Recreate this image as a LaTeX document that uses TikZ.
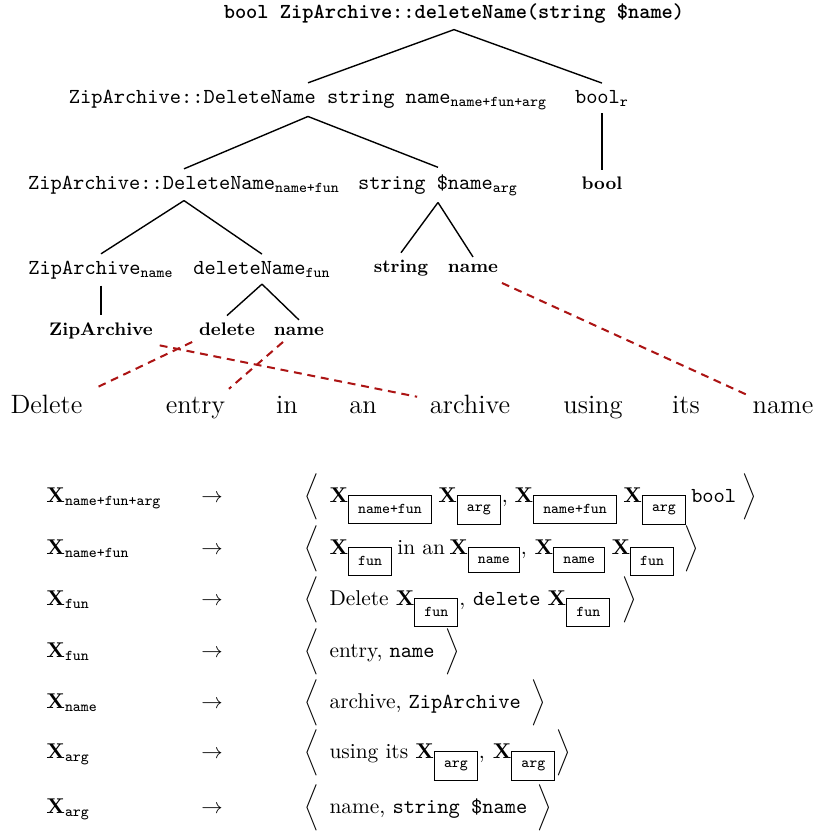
\documentclass[tikz,border=0pt]{standalone}
\usepackage{amsmath}
\usepackage{graphicx}
\usetikzlibrary{calc}
\definecolor{linkred}{RGB}{172,20,20}
\newcommand{\tsub}[1]{\text{\ttfamily #1}}
\newcommand{\bxs}[1]{\text{\setlength{\fboxsep}{4.2pt}\setlength{\fboxrule}{0.5pt}\fbox{\ttfamily #1}}}
\newcommand{\lang}{\mathopen{\scalebox{0.9}{$\biggl\langle$}}}
\newcommand{\rang}{\mathclose{\scalebox{0.9}{$\biggr\rangle$}}}
\tikzset{
  tt/.style={font=\fontsize{10}{12}\selectfont\ttfamily, inner sep=3pt, anchor=base},
  ttb/.style={font=\fontsize{10}{12}\selectfont\ttfamily\bfseries, inner sep=3pt, anchor=base},
  leaf/.style={font=\fontsize{8.5}{10}\selectfont\bfseries, inner sep=3pt, anchor=base},
  word/.style={font=\fontsize{12.4}{15}\selectfont, inner sep=3pt, anchor=base},
  rulerow/.style={font=\fontsize{10}{12}\selectfont, inner sep=0pt, anchor=base west},
  treeline/.style={line width=0.65pt, black},
  linkline/.style={draw=linkred, line width=0.95pt, dash pattern=on 3.7pt off 2.7pt},
}
\begin{document}
\begin{tikzpicture}[x=0.4675pt, y=-0.4675pt]
\useasboundingbox (0,0) rectangle (817,832);
% tree
\node[ttb] (root) at (454,18) {bool ZipArchive::deleteName(string \$name)};
\node[tt] (n2) at (308,103) {ZipArchive::DeleteName string name$_{\tsub{name+fun+arg}}$};
\node[tt] (br) at (602,103) {bool$_{\tsub{r}}$};
\node[tt] (n3a) at (184,189) {ZipArchive::DeleteName$_{\tsub{name+fun}}$};
\node[tt] (n3b) at (438,189) {string \$name$_{\tsub{arg}}$};
\node[leaf] (b3) at (602,189) {bool};
\node[tt] (n4a) at (101,274) {ZipArchive$_{\tsub{name}}$};
\node[tt] (n4b) at (262,274) {deleteName$_{\tsub{fun}}$};
\node[leaf] (l4s) at (401,272) {string};
\node[leaf] (l4n) at (473,272) {name};
\node[leaf] (l5z) at (101,335) {ZipArchive};
\node[leaf] (l5d) at (227,335) {delete};
\node[leaf] (l5n) at (299,335) {name};
\draw[treeline] (root.south) -- (n2.north);
\draw[treeline] (root.south) -- (br.north);
\draw[treeline] (n2.south) -- (n3a.north);
\draw[treeline] (n2.south) -- (n3b.north);
\draw[treeline] (br.south) -- (b3.north);
\draw[treeline] (n3a.south) -- (n4a.north);
\draw[treeline] (n3a.south) -- (n4b.north);
\draw[treeline] (n3b.south) -- (l4s.north);
\draw[treeline] (n3b.south) -- (l4n.north);
\draw[treeline] (n4a.south) -- (l5z.north);
\draw[treeline] (n4b.south) -- (l5d.north);
\draw[treeline] (n4b.south) -- (l5n.north);
% sentence
\node[word] (w1) at (46.5,413) {Delete};
\node[word] (w2) at (195.5,413) {entry};
\node[word] (w3) at (287,413) {in};
\node[word] (w4) at (363,413) {an};
\node[word] (w5) at (470,413) {archive};
\node[word] (w6) at (593,413) {using};
\node[word] (w7) at (686,413) {its};
\node[word] (w8) at (783,413) {name};
\draw[linkline] (l5d.south west) -- ($(w1.north east)+(9,-1)$);
\draw[linkline] (l5z.south east) -- ($(w5.north west)+(-6,9)$);
\draw[linkline] ($(l5n.south west)!0.5!(l5n.south)$) -- ($(w2.north east)+(-3,-1)$);
\draw[linkline] ($(l4n.south east)+(-3,4)$) -- (w8.north west);
% rules
\node[rulerow] (lab1) at (46,502) {$\mathbf{X}_{\tsub{name+fun+arg}}$};
\node[rulerow] (arr1) at (201,502) {$\rightarrow$};
\node[rulerow] (rhs1) at (304,502) {$\lang\hspace{5pt}\mathbf{X}_{\bxs{name+fun}}\hspace{2.5pt}\mathbf{X}_{\bxs{arg}},\hspace{1.5pt}\mathbf{X}_{\bxs{name+fun}}\hspace{2.5pt}\mathbf{X}_{\bxs{arg}}\hspace{2pt}\texttt{bool}\hspace{3pt}\rang$};
\node[rulerow] (lab2) at (46,554) {$\mathbf{X}_{\tsub{name+fun}}$};
\node[rulerow] (arr2) at (201,554) {$\rightarrow$};
\node[rulerow] (rhs2) at (304,554) {$\lang\hspace{5pt}\mathbf{X}_{\bxs{fun}}\hspace{2pt}\text{in an}\hspace{2pt}\mathbf{X}_{\bxs{name}},\hspace{2pt}\mathbf{X}_{\bxs{name}}\hspace{2.5pt}\mathbf{X}_{\bxs{fun}}\hspace{4.5pt}\rang$};
\node[rulerow] (lab3) at (46,605) {$\mathbf{X}_{\tsub{fun}}$};
\node[rulerow] (arr3) at (201,605) {$\rightarrow$};
\node[rulerow] (rhs3) at (304,605) {$\lang\hspace{5pt}\text{Delete}\ \mathbf{X}_{\bxs{fun}},\hspace{2pt}\texttt{delete}\ \mathbf{X}_{\bxs{fun}}\hspace{5pt}\rang$};
\node[rulerow] (lab4) at (46,657) {$\mathbf{X}_{\tsub{fun}}$};
\node[rulerow] (arr4) at (201,657) {$\rightarrow$};
\node[rulerow] (rhs4) at (304,657) {$\lang\hspace{5pt}\text{entry,}\ \texttt{name}\hspace{5pt}\rang$};
\node[rulerow] (lab5) at (46,708) {$\mathbf{X}_{\tsub{name}}$};
\node[rulerow] (arr5) at (201,708) {$\rightarrow$};
\node[rulerow] (rhs5) at (304,708) {$\lang\hspace{5pt}\text{archive,}\ \texttt{ZipArchive}\hspace{5pt}\rang$};
\node[rulerow] (lab6) at (46,758) {$\mathbf{X}_{\tsub{arg}}$};
\node[rulerow] (arr6) at (201,758) {$\rightarrow$};
\node[rulerow] (rhs6) at (304,758) {$\lang\hspace{5pt}\text{using its}\ \mathbf{X}_{\bxs{arg}},\hspace{2pt}\mathbf{X}_{\bxs{arg}}\rang$};
\node[rulerow] (lab7) at (46,813) {$\mathbf{X}_{\tsub{arg}}$};
\node[rulerow] (arr7) at (201,813) {$\rightarrow$};
\node[rulerow] (rhs7) at (304,813) {$\lang\hspace{5pt}\text{name,}\ \texttt{string \$name}\hspace{5pt}\rang$};
\end{tikzpicture}
\end{document}
